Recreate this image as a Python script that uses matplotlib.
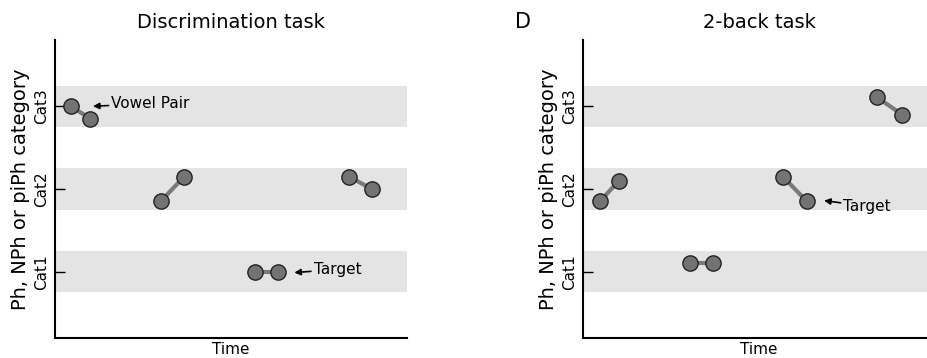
import numpy as np
import matplotlib
matplotlib.use('Agg')
import matplotlib.pyplot as plt

# category rows and trial pairs (time, level) for each task
categories = ['Cat1', 'Cat2', 'Cat3']
cat_levels = [1, 2, 3]

disc_x = [[0.045, 0.10], [0.30, 0.367], [0.568, 0.634], [0.835, 0.90]]
disc_y = [[3.0, 2.85], [1.85, 2.15], [1.0, 1.0], [2.15, 2.0]]

back_x = [[0.048, 0.102], [0.304, 0.37], [0.568, 0.636], [0.835, 0.906]]
back_y = [[1.85, 2.1], [1.11, 1.11], [2.15, 1.85], [3.11, 2.9]]

fig = plt.figure(figsize=(9.27, 3.58), dpi=100)
ax1 = fig.add_axes([55 / 927, 20 / 358, 352 / 927, 298 / 358])
ax2 = fig.add_axes([583 / 927, 20 / 358, 352 / 927, 298 / 358])


def draw_task(ax, xs, ys, title):
    for lev in cat_levels:
        ax.axhspan(lev - 0.25, lev + 0.25, color='#e4e4e4', lw=0, zorder=0)
    for px, py in zip(xs, ys):
        ax.plot(px, py, '-', color='#7a7a7a', lw=3, zorder=2)
        ax.plot(px, py, 'o', ms=11, mfc='#737373', mec='#222222', mew=1, zorder=3)
    ax.set_xlim(0, 1)
    ax.set_ylim(0.2, 3.8)
    ax.set_yticks(cat_levels)
    ax.set_yticklabels(categories, rotation=90, va='center', fontsize=11)
    ax.set_xticks([])
    ax.tick_params(axis='y', direction='in', length=7, width=1, pad=4)
    for s in ['top', 'right']:
        ax.spines[s].set_visible(False)
    ax.spines['left'].set_linewidth(1.5)
    ax.spines['bottom'].set_linewidth(1.5)
    ax.set_ylabel('Ph, NPh or piPh category', fontsize=14, labelpad=3)
    ax.set_xlabel('Time', fontsize=11, labelpad=3)
    ax.set_title(title, fontsize=14, pad=9)


draw_task(ax1, disc_x, disc_y, 'Discrimination task')
draw_task(ax2, back_x, back_y, '2-back task')

arrow = dict(arrowstyle='-|>', color='black', lw=1.2, shrinkA=0, shrinkB=0,
             mutation_scale=9)
ax1.annotate('Vowel Pair', xy=(0.108, 3.0), xytext=(0.16, 3.03),
             fontsize=11, va='center', arrowprops=arrow)
ax1.annotate('Target', xy=(0.68, 0.99), xytext=(0.735, 1.03),
             fontsize=11, va='center', arrowprops=arrow)
ax2.annotate('Target', xy=(0.685, 1.86), xytext=(0.74, 1.79),
             fontsize=11, va='center', arrowprops=arrow)

fig.text(515 / 927, 1 - 22 / 358, 'D', fontsize=15, va='center', ha='left')

fig.savefig('out.png', dpi=100)
